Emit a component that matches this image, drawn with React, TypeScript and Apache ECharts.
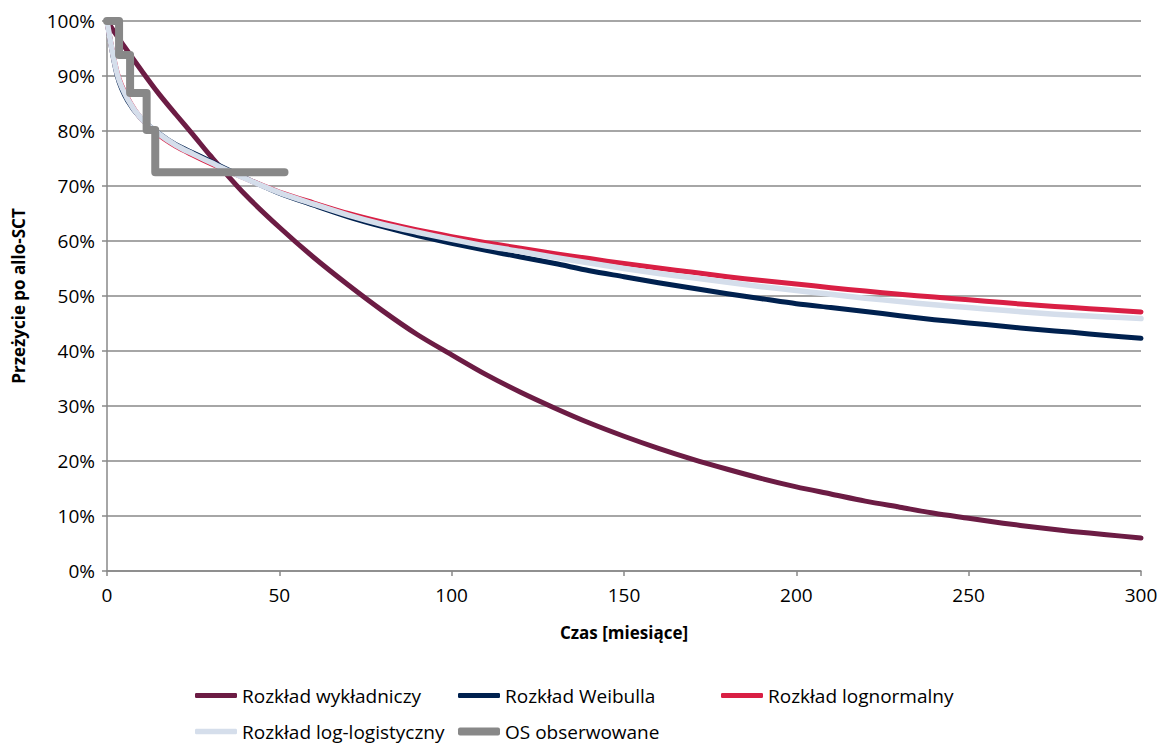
import React, { useEffect, useRef } from "react";
import * as echarts from "echarts";

const months = [0, 3, 6, 10, 15, 20, 25, 30, 40, 50, 60, 70, 80, 90, 100, 110, 120, 130, 140, 150, 160, 170, 180, 190, 200, 210, 220, 230, 240, 250, 260, 270, 280, 290, 300];
const expVals = [100, 97.2, 94.5, 91, 86.8, 83, 79.3, 75.5, 68.5, 62.5, 57, 52, 47.3, 43, 39.3, 35.7, 32.5, 29.6, 26.9, 24.5, 22.3, 20.3, 18.5, 16.8, 15.3, 14, 12.7, 11.6, 10.5, 9.6, 8.7, 7.9, 7.2, 6.6, 6.0];
const weibullVals = [100, 90, 85.5, 82.2, 79.6, 77.5, 76, 74.5, 71.5, 68.7, 66.5, 64.4, 62.6, 61, 59.6, 58.3, 57.1, 55.9, 54.6, 53.5, 52.4, 51.4, 50.4, 49.5, 48.6, 47.9, 47.2, 46.4, 45.7, 45.1, 44.5, 43.9, 43.4, 42.8, 42.3];
const lognormVals = [100, 90.5, 86, 82.2, 79.3, 77.2, 75.6, 74.1, 71.4, 68.9, 66.9, 65, 63.4, 62, 60.8, 59.7, 58.7, 57.7, 56.8, 55.9, 55.1, 54.3, 53.5, 52.8, 52.2, 51.5, 50.9, 50.3, 49.8, 49.3, 48.8, 48.3, 47.9, 47.5, 47.1];
const loglogVals = [100, 90.3, 85.8, 82.2, 79.5, 77.4, 75.8, 74.3, 71.4, 68.8, 66.7, 64.7, 63, 61.6, 60.3, 59.1, 58.1, 57, 56, 55, 54.1, 53.3, 52.5, 51.7, 51, 50.3, 49.6, 49, 48.4, 47.9, 47.4, 46.9, 46.5, 46.2, 45.9];
const osTimes = [0, 3.5, 6.7, 11.5, 14, 51.5];
const osVals = [100, 93.8, 86.9, 80.2, 72.5, 72.5];

const seriesNames = ["Rozkład wykładniczy", "Rozkład Weibulla", "Rozkład lognormalny", "Rozkład log-logistyczny", "OS obserwowane"];
const xTicks = [0, 50, 100, 150, 200, 250, 300];

const FONT = "Open Sans";

export default function App() {
  const ref = useRef<HTMLDivElement>(null);
  useEffect(() => {
    document.body.style.margin = "0";
    const chart = echarts.init(ref.current!, null, { renderer: "svg" });
    const pair = (vals: number[]) => months.map((t, i) => [t, vals[i]]);
    const colors = ["#6C1C44", "#00214F", "#D91F44", "#D5DEEB", "#888888"];
    const widths = [5, 5, 5, 5.5, 8];
    const datas = [pair(expVals), pair(weibullVals), pair(lognormVals), pair(loglogVals), osTimes.map((t, i) => [t, osVals[i]])];
    const legendPos = [
      { left: 190, top: 681 },
      { left: 453, top: 681 },
      { left: 716, top: 681 },
      { left: 190, top: 717 },
      { left: 453, top: 717 },
    ];
    const option: any = {
      animation: false,
      grid: { left: 107, right: 21, top: 21, bottom: 173 },
      xAxis: {
        type: "value",
        min: xTicks[0],
        max: xTicks[xTicks.length - 1],
        interval: 50,
        name: "Czas [miesiące]",
        nameLocation: "middle",
        nameGap: 53,
        nameTextStyle: { fontFamily: FONT, fontSize: 17, fontWeight: "bold", color: "#000" },
        axisLine: { show: true, lineStyle: { color: "#888", width: 1.5 } },
        axisTick: { show: true, length: 5, lineStyle: { color: "#888", width: 1.5 } },
        axisLabel: { fontFamily: FONT, fontSize: 19, color: "#000", margin: 14 },
        splitLine: { show: false },
      },
      yAxis: {
        type: "value",
        min: 0,
        max: 100,
        interval: 10,
        name: "Przeżycie po allo-SCT",
        nameLocation: "middle",
        nameGap: 80,
        nameTextStyle: { fontFamily: FONT, fontSize: 17, fontWeight: "bold", color: "#000" },
        axisLine: { show: true, lineStyle: { color: "#888", width: 1.5 } },
        axisTick: { show: true, length: 5, lineStyle: { color: "#888", width: 1.5 } },
        axisLabel: { fontFamily: FONT, fontSize: 19, color: "#000", margin: 12, formatter: "{value}%" },
        splitLine: { show: true, lineStyle: { color: "#888", width: 1.5 } },
      },
      legend: seriesNames.map((n, i) => ({
        data: [n],
        left: legendPos[i].left,
        top: legendPos[i].top,
        icon: "roundRect",
        itemWidth: 42,
        itemHeight: widths[i],
        textStyle: { fontFamily: FONT, fontSize: 19, color: "#000" },
      })),
      series: seriesNames.map((n, i) => ({
        name: n,
        type: "line",
        data: datas[i],
        showSymbol: false,
        symbol: "none",
        smooth: i === 4 ? false : 0.3,
        step: i === 4 ? "end" : undefined,
        color: colors[i],
        lineStyle: { color: colors[i], width: widths[i], cap: "round", join: "round" },
      })),
    };
    chart.setOption(option);
    return () => chart.dispose();
  }, []);
  return <div ref={ref} style={{ width: 1162, height: 744 }} />;
}
